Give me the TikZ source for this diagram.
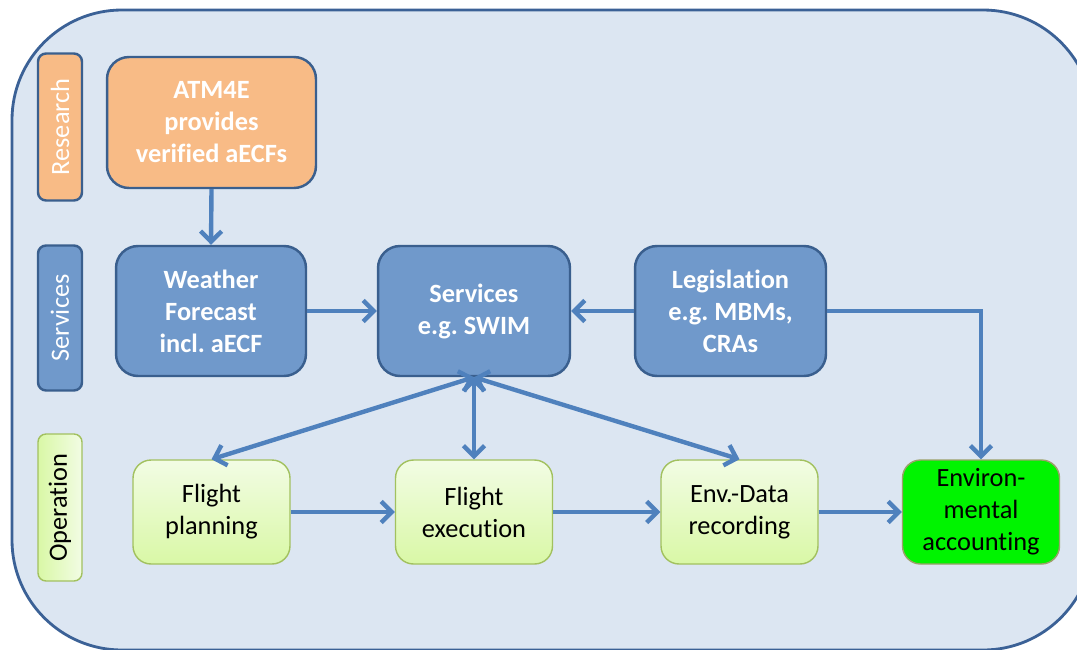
\documentclass[tikz,border=0pt]{standalone}
\usepackage{fontspec}
\setmainfont[Ligatures={NoCommon,NoDiscretionary,NoContextual}]{Carlito}
\usetikzlibrary{arrows.meta}
\frenchspacing
\definecolor{bgfill}{HTML}{DCE6F2}
\definecolor{bgline}{HTML}{3B6196}
\definecolor{bluefill}{HTML}{7099CB}
\definecolor{blueline}{HTML}{3A5F8E}
\definecolor{orangefill}{HTML}{F8BB86}
\definecolor{greentop}{HTML}{F2FCE4}
\definecolor{greenbot}{HTML}{D9F8A6}
\definecolor{greenline}{HTML}{A2C15F}
\definecolor{brightgreen}{HTML}{00F400}
\definecolor{olive}{HTML}{9CA06A}
\definecolor{arrowblue}{HTML}{4F81BD}
\tikzset{
  txt/.style={font=\fontsize{15}{18.2}\selectfont, align=center, inner sep=0pt},
  bigbox/.style={txt, draw=blueline, line width=1.4pt, rounded corners=0.44cm,
    minimum height=2.6cm, text=white, font=\fontsize{15}{18.2}\selectfont\bfseries},
  research/.style={bigbox, fill=orangefill},
  servicebox/.style={bigbox, fill=bluefill},
  opbox/.style={txt, draw=greenline, line width=0.8pt, rounded corners=0.36cm,
    minimum width=3.14cm, minimum height=2.08cm, top color=greentop, bottom color=greenbot},
  envbox/.style={txt, draw=olive, line width=0.8pt, rounded corners=0.36cm,
    minimum width=3.14cm, minimum height=2.08cm, fill=brightgreen},
  sidelabel/.style={txt, rotate=90, rounded corners=0.16cm, minimum width=2.94cm, minimum height=0.88cm},
  conn/.style={draw=arrowblue, line width=2.5pt, -{Straight Barb[length=6pt,width=12pt]}},
  biconn/.style={draw=arrowblue, line width=2.5pt, {Straight Barb[length=6pt,width=12pt]}-{Straight Barb[length=6pt,width=12pt]}}
}
\begin{document}
\begin{tikzpicture}[x=0.02cm,y=-0.02cm]
\useasboundingbox (0,0) rectangle (1077,649);
\clip (0,0) rectangle (1077,649);
\draw[fill=bgfill, draw=bgline, line width=1.6pt, rounded corners=2.2cm] (12,10) rectangle (1093,650);

% side labels
\node[sidelabel, fill=orangefill, draw=blueline, line width=1.4pt, text=white] (lres) at (60,127) {Research};
\node[sidelabel, fill=bluefill, draw=blueline, line width=1.4pt, text=white, minimum width=2.9cm] (lser) at (60,318) {Services};
\node[sidelabel, top color=greenbot, bottom color=greentop, shading angle=90, draw=greenline, line width=0.8pt, text=black] (lop) at (60,507.5) {Operation};

% research
\node[research, minimum width=4.18cm, minimum height=2.62cm] (atm) at (211.5,122.5) {ATM4E\\provides\\verified aECFs};

% services row
\node[servicebox, minimum width=3.8cm] (wf) at (211,311) {Weather\\Forecast\\incl. aECF};
\node[servicebox, minimum width=3.84cm] (svc) at (474,311) {Services\\e.g. SWIM};
\node[servicebox, minimum width=3.82cm] (leg) at (730.5,311) {Legislation\\e.g. MBMs,\\CRAs};

% operation row
\node[opbox] (fp) at (211.5,512) {Flight\\planning};
\node[opbox] (fe) at (474,512) {Flight\\execution};
\node[opbox] (ed) at (739.5,512) {Env.-Data\\recording};
\node[envbox] (ea) at (981,512) {Environ-\\mental\\accounting};

% connectors
\draw[conn] (atm.south) -- (wf.north);
\draw[conn] (wf.east) -- (svc.west);
\draw[conn] (leg.west) -- (svc.east);
\draw[conn] (leg.east) -| (ea.north);
\draw[biconn] (svc.south) -- (fp.north);
\draw[biconn] (svc.south) -- (fe.north);
\draw[biconn] (svc.south) -- (ed.north);
\draw[conn] (fp.east) -- (fe.west);
\draw[conn] (fe.east) -- (ed.west);
\draw[conn] (ed.east) -- (ea.west);
\end{tikzpicture}
\end{document}
